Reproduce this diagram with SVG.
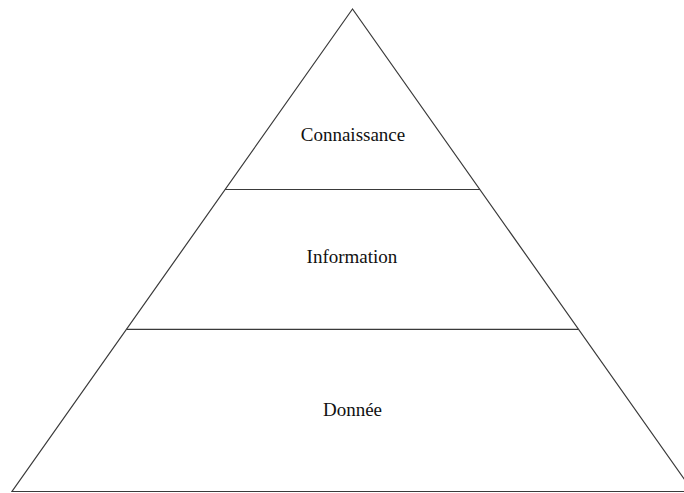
<svg xmlns="http://www.w3.org/2000/svg" width="684" height="493" viewBox="0 0 684 493">
<style>
.edge{fill:none;stroke:#3a3a3a;stroke-width:1.2}
.lbl{font-family:"Liberation Serif","DejaVu Serif",serif;font-size:19px;fill:#111;text-anchor:middle}
</style>
<rect width="684" height="493" fill="#fff"/>
<g id="connectors">
<polygon class="edge" points="352.5,9 12,491.5 693,491.5"/>
<line class="edge" x1="225" y1="189.5" x2="480" y2="189.5"/>
<line class="edge" x1="126.7" y1="329.3" x2="578.3" y2="329.3"/>
</g>
<g id="connaissance"><text class="lbl" x="353" y="140.5">Connaissance</text></g>
<g id="information"><text class="lbl" x="352" y="263">Information</text></g>
<g id="donnee"><text class="lbl" x="352.5" y="416">Donnée</text></g>
</svg>
